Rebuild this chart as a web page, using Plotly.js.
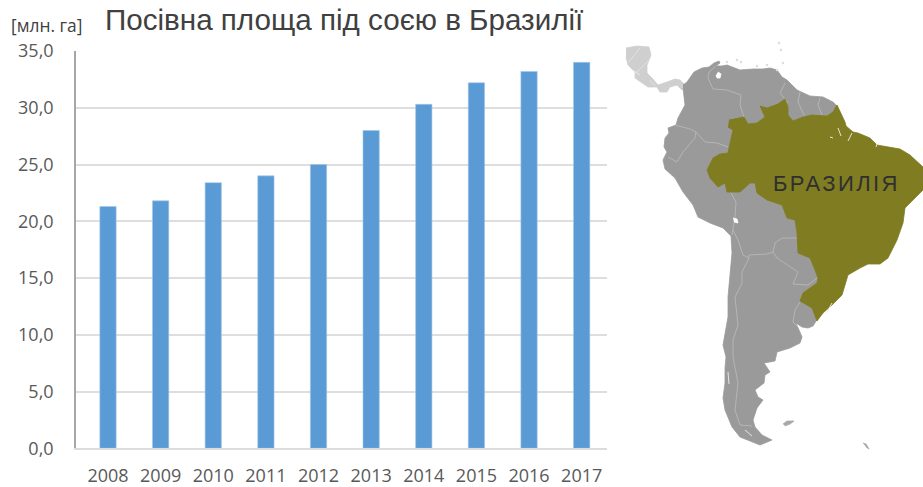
<!DOCTYPE html>
<html><head><meta charset="utf-8">
<script src="https://cdn.plot.ly/plotly-3.0.1.min.js"></script>
<style>html,body{margin:0;padding:0;background:#fff}#c{width:923px;height:487px}
.annotation-text[data-unformatted="БРАЗИЛІЯ"]{letter-spacing:2.4px}</style>
</head><body><div id="c"></div>
<script>
const years=['2008','2009','2010','2011','2012','2013','2014','2015','2016','2017'];
const area=[21.3,21.8,23.4,24.0,25.0,28.0,30.3,32.2,33.2,34.0];
const chartTitle='Посівна площа під соєю в Бразилії';
const unitLabel='[млн. га]';
const mapLabel='БРАЗИЛІЯ';
// Map outlines (map units)
const centralAmerica=[[626,48],[637,46],[649,47],[651,55],[647,65],[647,73],[652,78],[658,85],[667,82],[675,79],[680,80],[685,85],[682,90],[677,85],[670,87],[667,92],[660,92],[657,87],[648,87],[640,82],[635,78],[635,72],[628,65],[626,57]];
const southAmerica=[[683,85],[687,82],[694,72],[702,68],[709,67],[714,63],[719,61],[720,63],[716,66],[722,66],[727,65],[740,70],[753,69],[763,69],[770,68],[777,70],[782,77],[787,80],[797,90],[810,96],[823,97],[833,102],[837,106],[850,200],[818,318],[813,326],[808,328],[802,327],[796,323],[800,332],[802,337],[800,343],[790,348],[777,352],[775,361],[764,363],[770,372],[765,375],[764,383],[755,390],[758,397],[763,400],[757,408],[753,420],[755,427],[762,435],[772,440],[760,445],[748,440],[740,437],[732,427],[725,410],[723,398],[725,383],[725,368],[726,357],[723,345],[728,317],[728,297],[730,273],[732,253],[731,236],[723,228],[710,223],[698,217],[693,205],[683,192],[675,178],[665,169],[663,160],[667,152],[664,147],[665,138],[669,133],[668,128],[676,125],[678,118],[685,105],[683,88]];
const brazil=[[729,120],[744,117],[748,124],[757,123],[765,117],[760,106],[767,108],[778,104],[785,99],[788,107],[788,115],[793,121],[803,117],[812,115],[827,116],[833,112],[837,105],[842,115],[845,122],[846,126],[853,132],[858,133],[870,138],[877,145],[900,149],[910,155],[918,163],[923,167],[923,190],[913,200],[905,208],[903,223],[897,240],[888,258],[880,264],[868,264],[860,268],[848,275],[845,285],[842,295],[832,305],[823,313],[817,321],[812,308],[800,301],[803,293],[817,283],[818,278],[815,270],[810,258],[798,253],[797,233],[795,220],[787,218],[782,205],[767,200],[757,193],[755,183],[750,183],[740,192],[727,192],[725,183],[718,187],[710,178],[707,170],[713,158],[720,154],[728,153],[730,143],[733,130],[728,127]];
const borders=[
 [[716,66],[709,72],[708,78],[713,89],[727,90],[741,95],[740,105],[744,117]],
 [[785,83],[780,93],[788,103]],
 [[800,92],[798,102],[803,113],[805,117]],
 [[820,98],[818,105],[822,115]],
 [[675,125],[690,129],[696,132],[705,142],[717,143],[728,147]],
 [[696,132],[695,138],[683,152],[677,162],[668,157]],
 [[731,193],[736,202],[735,217],[733,230],[732,235]],
 [[733,230],[738,240],[743,255],[749,258],[749,255],[762,254],[767,254],[773,252],[775,243],[782,238],[797,238]],
 [[773,252],[777,258],[798,272],[793,284],[808,285],[817,278]],
 [[749,258],[742,272],[742,283],[735,297],[738,325],[733,340],[733,357],[738,383],[735,410],[740,425],[752,426]],
 [[800,302],[795,310],[793,322],[798,327]]
];
const caBorders=[[[629,62],[640,48]],[[637,72],[649,60]],[[650,80],[655,86]]];
const whiteBits=[
 [[733,218],[737,219],[738,223],[734,222]],
 [[718,72],[721,74],[720,78],[717,78],[716,75]]
];
const whiteLines=[
 [[830,137],[833,138]],[[838,128],[841,136]],[[852,133],[848,141]],[[876,147],[877,144]],
 [[826,314],[832,303]],[[728,372],[729,384]],[[745,430],[752,436]],[[634,71],[640,75]]
];
const islands=[[[783,424],[787,421],[794,421],[790,424],[785,426]],[[863,443],[866,444],[869,449],[866,447]]];
const caribX=[727,737,757,777,783,779,781,741,767];
const caribY=[62,60,66,70,63,43,50,62,65];

function xs(a){return a.map(p=>p[0]);}
function ys(a){return a.map(p=>p[1]);}
function join(list){const o=[];list.forEach(l=>{l.forEach(p=>o.push(p));o.push([null,null]);});return o;}
function poly(a,color){return {type:'scatter',mode:'lines',x:xs(a),y:ys(a),xaxis:'x2',yaxis:'y2',fill:'toself',fillcolor:color,line:{color:color,width:0.8},hoverinfo:'skip',showlegend:false};}
function lines(a,color,w){const j=join(a);return {type:'scatter',mode:'lines',x:xs(j),y:ys(j),xaxis:'x2',yaxis:'y2',line:{color:color,width:w},connectgaps:false,hoverinfo:'skip',showlegend:false};}

const traces=[
 {type:'bar',x:years,y:area,width:0.31,marker:{color:'#5b9bd5',line:{color:'#a5c8e8',width:0.6}},hoverinfo:'x+y',showlegend:false},
 poly(centralAmerica,'#cfcfcf'),
 lines(caBorders,'#e6e6e6',0.8),
 poly(southAmerica,'#9a9a9a'),
 lines(borders,'#b8b8b8',0.9),
 poly(brazil,'#807c22'),
 ...whiteBits.map(a=>poly(a,'#ffffff')),
 lines(whiteLines,'#eeeeee',0.9),
 ...islands.map(a=>poly(a,'#a8a8a8')),
 {type:'scatter',mode:'markers',x:caribX,y:caribY,xaxis:'x2',yaxis:'y2',marker:{size:2.5,color:'#dddddd'},hoverinfo:'skip',showlegend:false}
];
const layout={
 width:923,height:487,margin:{l:0,r:0,t:0,b:27,pad:0},paper_bgcolor:'#fff',plot_bgcolor:'rgba(0,0,0,0)',separators:', ',
 title:{text:chartTitle,x:105/923,xanchor:'left',xref:'container',y:1-20/487,yanchor:'middle',yref:'container',font:{family:'Liberation Sans',size:29.6,color:'#404040'}},
 xaxis:{domain:[76/923,607/923],range:[-0.608,9.481],type:'category',anchor:'y',showgrid:false,showline:true,linecolor:'#dcdcdc',linewidth:1.6,ticks:'outside',ticklen:10,tickcolor:'rgba(0,0,0,0)',tickfont:{family:'Open Sans',size:18,color:'#595959'},zeroline:false},
 yaxis:{domain:[(460-448.3)/460,(460-51)/460],range:[0,35],dtick:5,tickformat:'.1f',anchor:'x',showgrid:true,gridcolor:'#dedede',gridwidth:1.6,showline:true,linecolor:'#a6a6a6',linewidth:1.6,ticks:'outside',ticklen:17,tickcolor:'rgba(0,0,0,0)',tickfont:{family:'Open Sans',size:18,color:'#595959'},zeroline:false},
 xaxis2:{domain:[620/923,1],range:[620,923],anchor:'y2',visible:false,fixedrange:true},
 yaxis2:{domain:[0,(460-30)/460],range:[460,30],anchor:'x2',visible:false,fixedrange:true},
 annotations:[
  {text:unitLabel,xref:'paper',yref:'paper',x:9/923,y:1-25/460,xanchor:'left',yanchor:'middle',showarrow:false,font:{family:'Open Sans',size:17.4,color:'#404040'}},
  {text:mapLabel,xref:'x2',yref:'y2',x:836,y:184,xanchor:'center',yanchor:'middle',showarrow:false,font:{family:'Liberation Sans',size:22,color:'#2f2f2f'}}
 ]
};
Plotly.newPlot('c',traces,layout,{displayModeBar:false,responsive:false});
</script></body></html>
